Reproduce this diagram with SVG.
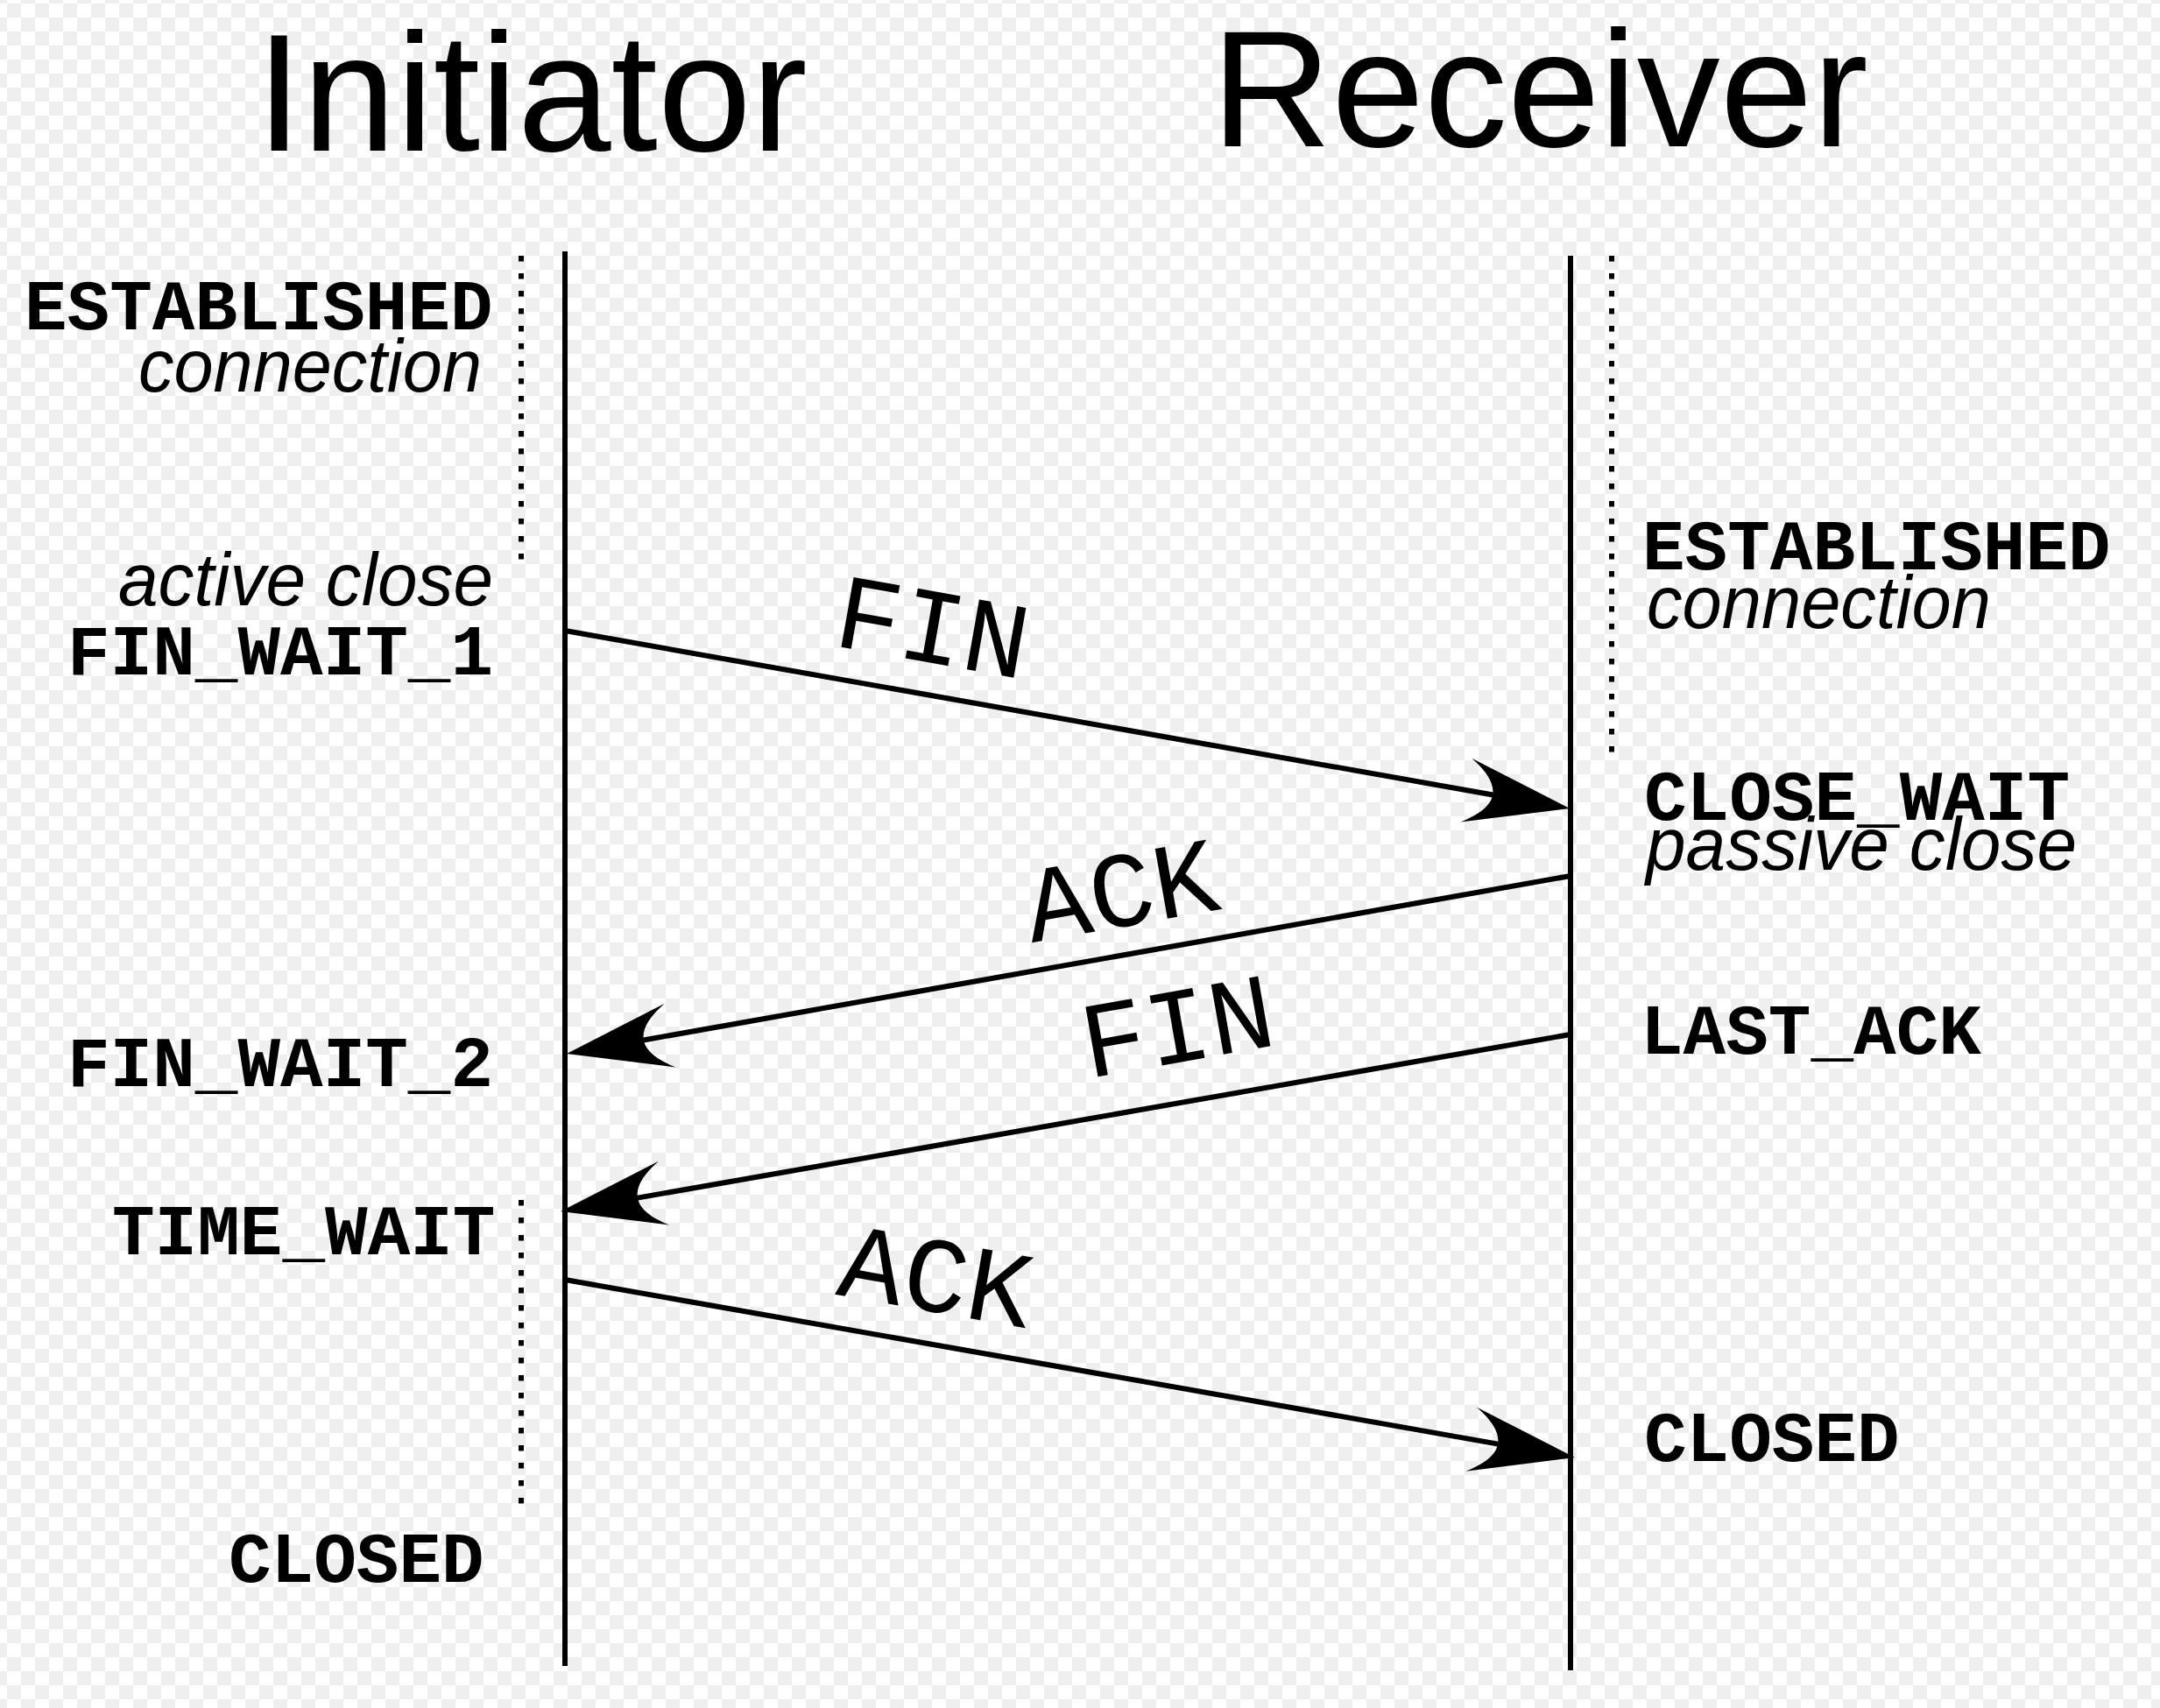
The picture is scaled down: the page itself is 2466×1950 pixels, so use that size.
<svg xmlns="http://www.w3.org/2000/svg" width="2466" height="1950" viewBox="0 0 2466 1950">
<defs>
<pattern id="checker" patternUnits="userSpaceOnUse" x="8" y="4" width="32" height="32">
<rect width="32" height="32" fill="#ffffff"/>
<rect width="16" height="16" fill="#efefef"/>
<rect x="16" y="16" width="16" height="16" fill="#efefef"/>
</pattern>
<marker id="arrow" markerUnits="userSpaceOnUse" orient="auto" refX="0" refY="0" markerWidth="200" markerHeight="200" overflow="visible">
<path d="M89,0 L-31,-37 C10,-12 10,12 -31,37 Z" fill="#000"/>
</marker>
<style>
.title{font-family:"Liberation Sans",Arial,sans-serif;fill:#000}
.state{font-family:"Liberation Mono","Courier New",monospace;font-weight:bold;font-size:81px;fill:#000}
.note{font-family:"Liberation Sans",Arial,sans-serif;font-style:italic;font-size:86px;fill:#000}
.msg{font-family:"Liberation Mono","Courier New",monospace;font-size:123px;fill:#000;text-anchor:middle}
.life{stroke:#000;stroke-width:6;fill:none}
.dots{stroke:#000;stroke-width:6;stroke-dasharray:6.5 13.5;fill:none}
.arr{stroke:#000;stroke-width:6;fill:none;marker-end:url(#arrow)}
</style>
</defs>
<rect width="2466" height="1950" fill="url(#checker)"/>

<g id="initiator">
<text class="title" x="292" y="172" font-size="192">Initiator</text>
<line class="life" x1="645" y1="287" x2="645" y2="1902"/>
</g>
<g id="receiver">
<text class="title" x="1383" y="167" font-size="190">Receiver</text>
<line class="life" x1="1793" y1="292" x2="1793" y2="1907"/>
</g>

<g id="init-established">
<line class="dots" x1="595" y1="292" x2="595" y2="648"/>
<text class="state" x="28" y="376">ESTABLISHED</text>
<text class="note" x="158" y="447" textLength="392" lengthAdjust="spacingAndGlyphs">connection</text>
</g>
<g id="init-fin-wait-1">
<text class="note" x="135" y="691" textLength="428" lengthAdjust="spacingAndGlyphs">active close</text>
<text class="state" x="77" y="770">FIN_WAIT_1</text>
</g>
<g id="init-fin-wait-2">
<text class="state" x="77" y="1240">FIN_WAIT_2</text>
</g>
<g id="init-time-wait">
<line class="dots" x1="595" y1="1370" x2="595" y2="1724"/>
<text class="state" x="128" y="1432">TIME_WAIT</text>
</g>
<g id="init-closed">
<text class="state" x="261" y="1806">CLOSED</text>
</g>

<g id="recv-established">
<line class="dots" x1="1840" y1="292" x2="1840" y2="872"/>
<text class="state" x="1875" y="650">ESTABLISHED</text>
<text class="note" x="1880" y="717" textLength="393" lengthAdjust="spacingAndGlyphs">connection</text>
</g>
<g id="recv-close-wait">
<text class="state" x="1877" y="936">CLOSE_WAIT</text>
<text class="note" x="1879" y="993" textLength="492" lengthAdjust="spacingAndGlyphs">passive close</text>
</g>
<g id="recv-last-ack">
<text class="state" x="1873" y="1203">LAST_ACK</text>
</g>
<g id="recv-closed">
<text class="state" x="1877" y="1668">CLOSED</text>
</g>

<g id="connectors">
<line class="arr" x1="645" y1="720" x2="1704.4" y2="907.5"/>
<line class="arr" x1="1793" y1="1000" x2="734.6" y2="1187.5"/>
<line class="arr" x1="1793" y1="1181" x2="727.7" y2="1367.6"/>
<line class="arr" x1="645" y1="1461" x2="1710.3" y2="1648.6"/>
<text class="msg" transform="translate(1058,756) rotate(10)">FIN</text>
<text class="msg" transform="translate(1287,1057) rotate(-10)">ACK</text>
<text class="msg" transform="translate(1351,1212) rotate(-10)">FIN</text>
<text class="msg" transform="translate(1062,1497) rotate(10)">ACK</text>
</g>
</svg>
